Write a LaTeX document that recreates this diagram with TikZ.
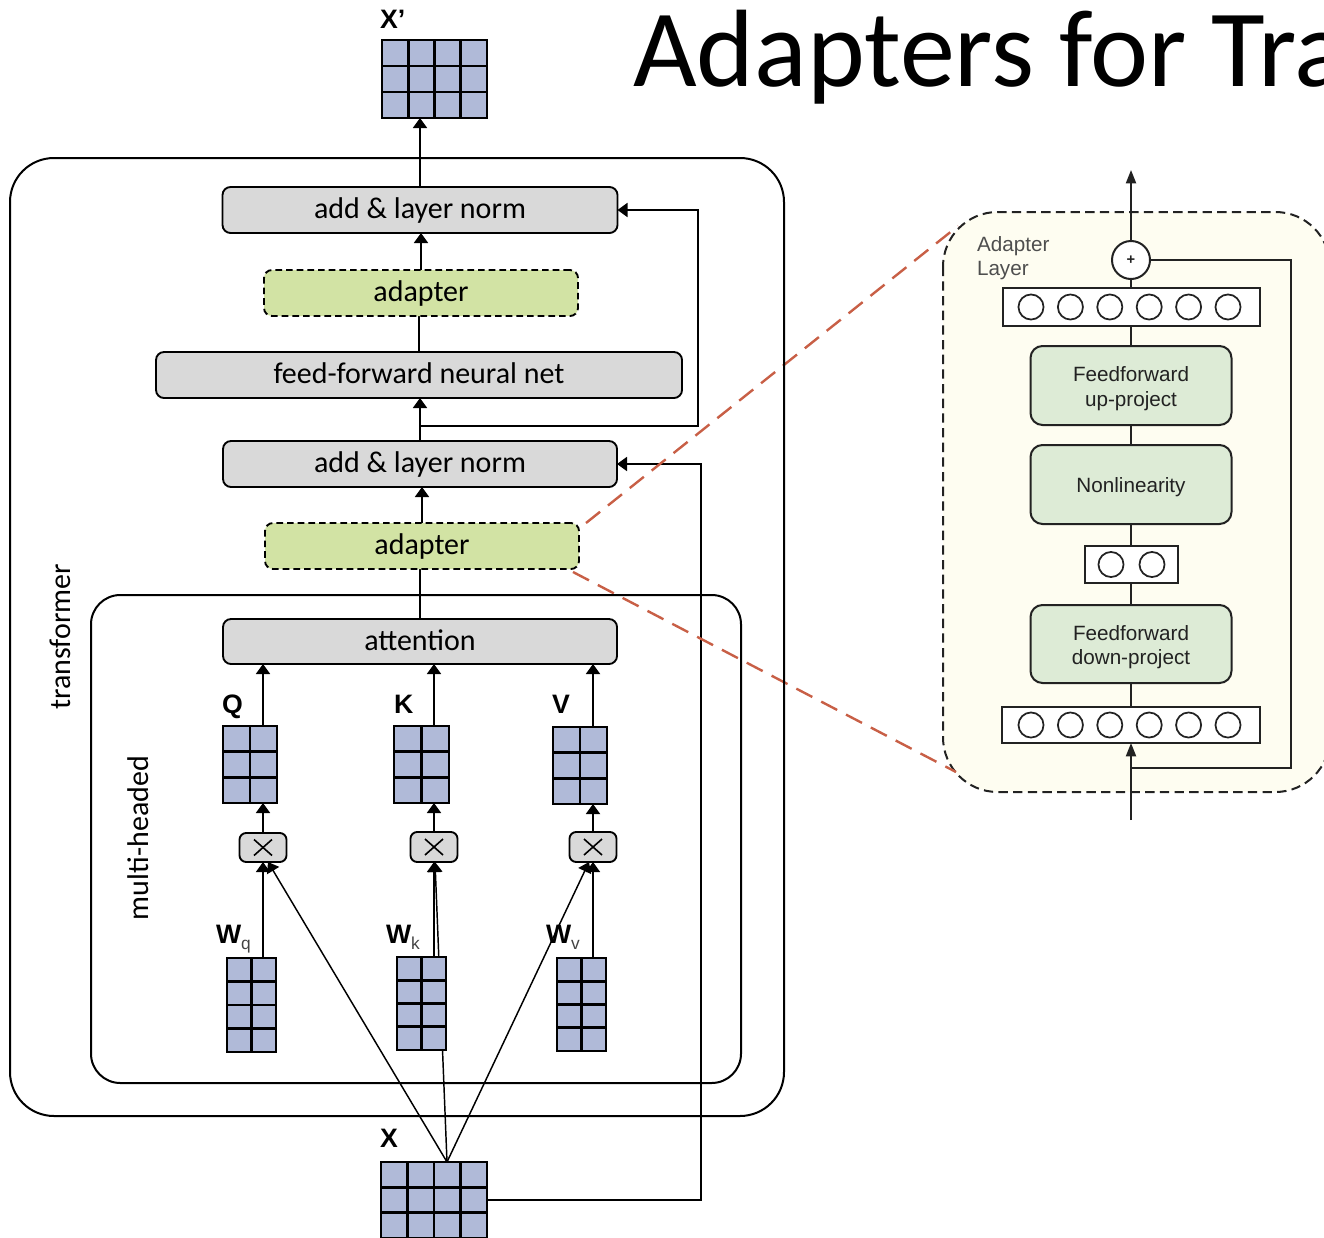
\documentclass[tikz,border=0pt]{standalone}
\usepackage{fontspec}
\setmainfont{Carlito}
\newfontfamily\arialf{Liberation Sans}
\usetikzlibrary{arrows.meta,calc}
\definecolor{matfill}{RGB}{176,186,216}
\definecolor{boxgray}{RGB}{217,217,217}
\definecolor{adgreen}{RGB}{210,227,164}
\definecolor{panelfill}{RGB}{254,253,241}
\definecolor{ffgreen}{RGB}{221,235,214}
\definecolor{redline}{RGB}{200,95,70}
\definecolor{darkt}{RGB}{34,34,34}
\pgfdeclarelayer{back}
\pgfdeclarelayer{bg}
\pgfsetlayers{back,bg,main}
\newcommand\mainfs{\fontsize{22.5pt}{27pt}\selectfont}
\newcommand\lblfs{\arialf\bfseries\fontsize{20pt}{24pt}\selectfont}
\newcommand\subfs{\arialf\mdseries\fontsize{13pt}{15pt}\selectfont\color{darkt!85}}
\newcommand\panfs{\arialf\fontsize{15.5pt}{18.5pt}\selectfont}
\tikzset{
  every node/.style={inner sep=0pt, outer sep=0pt},
  sz/.style 2 args={minimum width=#1*0.75pt, minimum height=#2*0.75pt},
  lw/.style={line width=1.4pt},
  gbox/.style={rectangle, draw, line width=1.4pt, fill=boxgray, rounded corners=6pt, font=\mainfs, text height=17pt, text depth=4.25pt},
  abox/.style={gbox, fill=adgreen, dash pattern=on 5pt off 3pt},
  mulbox/.style={rectangle, draw, line width=1.4pt, fill=boxgray, rounded corners=5pt},
  matnode/.style={rectangle, fill=matfill, draw=none},
  matline/.style={line width=2.2pt},
  arr/.style={line width=1.4pt, -{Triangle[width=10.5pt,length=7.5pt]}},
  thinarr/.style={line width=1.1pt, -{Triangle[width=10.5pt,length=7.5pt]}},
  bigbox/.style={draw, line width=1.5pt},
  reddash/.style={draw=redline, line width=1.8pt, dash pattern=on 13.5pt off 7.5pt},
  panel/.style={draw=darkt, fill=panelfill, line width=1.5pt, dash pattern=on 7pt off 4pt, rounded corners=41pt},
  cbox/.style={rectangle, draw=darkt, fill=white, line width=1.5pt},
  fbox/.style={rectangle, draw=darkt, fill=ffgreen, line width=1.5pt, rounded corners=9pt},
  ftext/.style={font=\panfs, text=darkt, align=center},
  circ/.style={draw=darkt, line width=1.3pt},
  pline/.style={draw=darkt, line width=1.5pt},
  parr/.style={pline, -{Triangle[width=7.5pt,length=10pt]}},
  lbl/.style={font=\lblfs, anchor=base west},
}
\newcommand\gridmat[7]{%
  \node[matnode, sz={#4}{#5}] (#1) at (#2,#3) {};
  \pgfmathtruncatemacro\gmc{#6-1}%
  \pgfmathtruncatemacro\gmr{#7-1}%
  \foreach \i in {1,...,\gmc}{\draw[matline] ($(#1.north west)!\i/#6!(#1.north east)$) -- ($(#1.south west)!\i/#6!(#1.south east)$);}
  \foreach \j in {1,...,\gmr}{\draw[matline] ($(#1.north west)!\j/#7!(#1.south west)$) -- ($(#1.north east)!\j/#7!(#1.south east)$);}
  \draw[matline] (#1.north west) rectangle (#1.south east);
}
\newcommand\mulx[1]{%
  \draw[line width=1.2pt] ($(#1)+(-9,-8)$) -- ($(#1)+(9,8)$);
  \draw[line width=1.2pt] ($(#1)+(-9,8)$) -- ($(#1)+(9,-8)$);
}
\begin{document}
\begin{tikzpicture}[x=0.75pt,y=-0.75pt]
\useasboundingbox (0,0) rectangle (1324,1238);
\clip (0,0) rectangle (1324,1238);

% title (cut at the right edge, as in the reference)
\node[anchor=base west, font=\fontsize{82.5pt}{90pt}\selectfont] (title) at (633,87) {Adapters for Transformers};

% adapter layer panel
\begin{pgfonlayer}{back}
\draw[panel] (943,212) rectangle (1330,792);
\end{pgfonlayer}

% big boxes
\draw[bigbox, rounded corners=33pt] (10,158) rectangle (784,1116);
\draw[bigbox, rounded corners=22pt] (91,595) rectangle (741,1083);
\node[rotate=90, font=\mainfs] (tlabel) at (60,637) {transformer};
\node[rotate=90, font=\mainfs] (mlabel) at (138,838) {multi-headed};

% main boxes
\node[gbox, sz={395}{46}] (addtop) at (420,210) {add \& layer norm};
\node[abox, sz={314}{46}] (adtop) at (421,293) {adapter};
\node[gbox, sz={526}{46}] (ff) at (419,375) {feed-forward neural net};
\node[gbox, sz={394}{46}] (addlow) at (420,464) {add \& layer norm};
\node[abox, sz={314}{46}] (adlow) at (422,546) {adapter};
\node[gbox, sz={394}{45}] (att) at (420,641.5) {attention};

% matrices
\gridmat{Xp}{434.5}{79}{105}{78}{4}{3}
\gridmat{X}{434}{1200}{106}{76}{4}{3}
\gridmat{Q}{250}{764.5}{54}{77}{2}{3}
\gridmat{K}{421.5}{764.5}{55}{77}{2}{3}
\gridmat{V}{580}{765.5}{54}{77}{2}{3}
\gridmat{Wq}{251.5}{1005}{49}{94}{2}{4}
\gridmat{Wk}{421.5}{1003.5}{49}{93}{2}{4}
\gridmat{Wv}{581.5}{1004.5}{49}{93}{2}{4}

% multiply boxes
\node[mulbox, sz={47}{29}] (mq) at (263,847.5) {};
\node[mulbox, sz={47}{30}] (mk) at (434,847) {};
\node[mulbox, sz={47}{30}] (mv) at (593,847) {};
\mulx{mq}\mulx{mk}\mulx{mv}

% labels
\node[lbl] (lXp) at (380,29) {X’};
\node[lbl] (lX) at (380,1147) {X};
\node[lbl] (lQ) at (222,713) {Q};
\node[lbl] (lK) at (394,713) {K};
\node[lbl] (lV) at (552,713) {V};
\node[lbl] (lWq) at (216,943) {W\raisebox{-5pt}{\subfs q}};
\node[lbl] (lWk) at (386,943) {W\raisebox{-5pt}{\subfs k}};
\node[lbl] (lWv) at (546,943) {W\raisebox{-5pt}{\subfs v}};

% adapter layer contents
\node[font=\panfs, text=darkt!80, anchor=base west] (al1) at (977,251) {Adapter};
\node[font=\panfs, text=darkt!80, anchor=base west] (al2) at (977,275) {Layer};
\node[circle, draw=darkt, fill=white, line width=1.5pt, minimum size=28.5pt, font=\arialf\bfseries\fontsize{11pt}{11pt}\selectfont, text=darkt] (plus) at (1131,260) {+};
\node[cbox, sz={257}{38}] (top6) at (1131,307) {};
\foreach \k in {0,...,5} \draw[circ] (1031+\k*39.4,307) circle[radius=9.4pt];
\node[fbox, sz={201}{79}] (ffup) at (1131,385.5) {};
\node[ftext] (ffupt) at ($(ffup.center)+(0,3)$) {Feedforward\\up-project};
\node[fbox, sz={201}{79}] (nonlin) at (1131,484.5) {};
\node[ftext] (nonlint) at ($(nonlin.center)+(0,3)$) {Nonlinearity};
\node[cbox, sz={93}{37}] (two) at (1131,564.5) {};
\draw[circ] (1111,564.5) circle[radius=9.4pt];
\draw[circ] (1152,564.5) circle[radius=9.4pt];
\node[fbox, sz={201}{78}] (ffdown) at (1131,644) {};
\node[ftext] (ffdownt) at ($(ffdown.center)+(0,3)$) {Feedforward\\down-project};
\node[cbox, sz={258}{36}] (bot6) at (1131,725) {};
\foreach \k in {0,...,5} \draw[circ] (1031+\k*39.4,725) circle[radius=9.4pt];

\coordinate (inp) at (1131,820);
\coordinate (skip) at (1131,768);
\coordinate (outp) at (1131,170);
\coordinate (pTL) at (958,226);
\coordinate (pBL) at (956,772);
\coordinate (br) at (420,426);

\begin{pgfonlayer}{bg}
% main chain
\draw[arr] (addtop.north) -- (addtop.north |- Xp.south);
\draw[arr] (adtop.north) -- (adtop.north |- addtop.south);
\draw[lw] (ff.north) -- (ff.north |- adtop.south);
\draw[arr] (addlow.north) -- (addlow.north |- ff.south);
\draw[arr] (adlow.north) -- (adlow.north |- addlow.south);
\draw[lw] (att.north) -- (att.north |- adlow.south);
% residuals
\draw[arr] (X.east) -- ++(214,0) |- (addlow.east);
\draw[arr] (br) -- (698,426) |- (addtop.east);
% Q K V
\draw[arr] (Q.north -| mq) -- (att.south -| mq);
\draw[arr] (K.north -| mk) -- (att.south -| mk);
\draw[arr] (V.north -| mv) -- (att.south -| mv);
\draw[arr] (mq.north) -- (Q.south -| mq);
\draw[arr] (mk.north) -- (K.south -| mk);
\draw[arr] (mv.north) -- (V.south -| mv);
\draw[thinarr] (Wq.north -| mq) -- (mq.south);
\draw[thinarr] (Wk.north -| mk) -- (mk.south);
\draw[thinarr] (Wv.north -| mv) -- (mv.south);
\draw[thinarr] ($(X.north)+(13,0)$) -- ($(mq.south)+(5,0)$);
\draw[thinarr] ($(X.north)+(13,0)$) -- ($(mk.south)+(1,0)$);
\draw[thinarr] ($(X.north)+(13,0)$) -- ($(mv.south)+(-4,0)$);
% red zoom lines
\draw[reddash] ($(adlow.north east)+(7,0)$) -- (pTL);
\draw[reddash] ($(adlow.south east)+(-6,3)$) -- (pBL);
% adapter layer
\draw[parr] (inp) -- (bot6.south);
\draw[pline] (skip) -- (1291,768) |- (plus.east);
\draw[pline] (bot6.north) -- (ffdown.south);
\draw[pline] (ffdown.north) -- (two.south);
\draw[pline] (two.north) -- (nonlin.south);
\draw[pline] (nonlin.north) -- (ffup.south);
\draw[pline] (ffup.north) -- (top6.south);
\draw[pline] (top6.north) -- (plus.south);
\draw[parr] (plus.north) -- (outp);
\end{pgfonlayer}
\end{tikzpicture}
\end{document}
